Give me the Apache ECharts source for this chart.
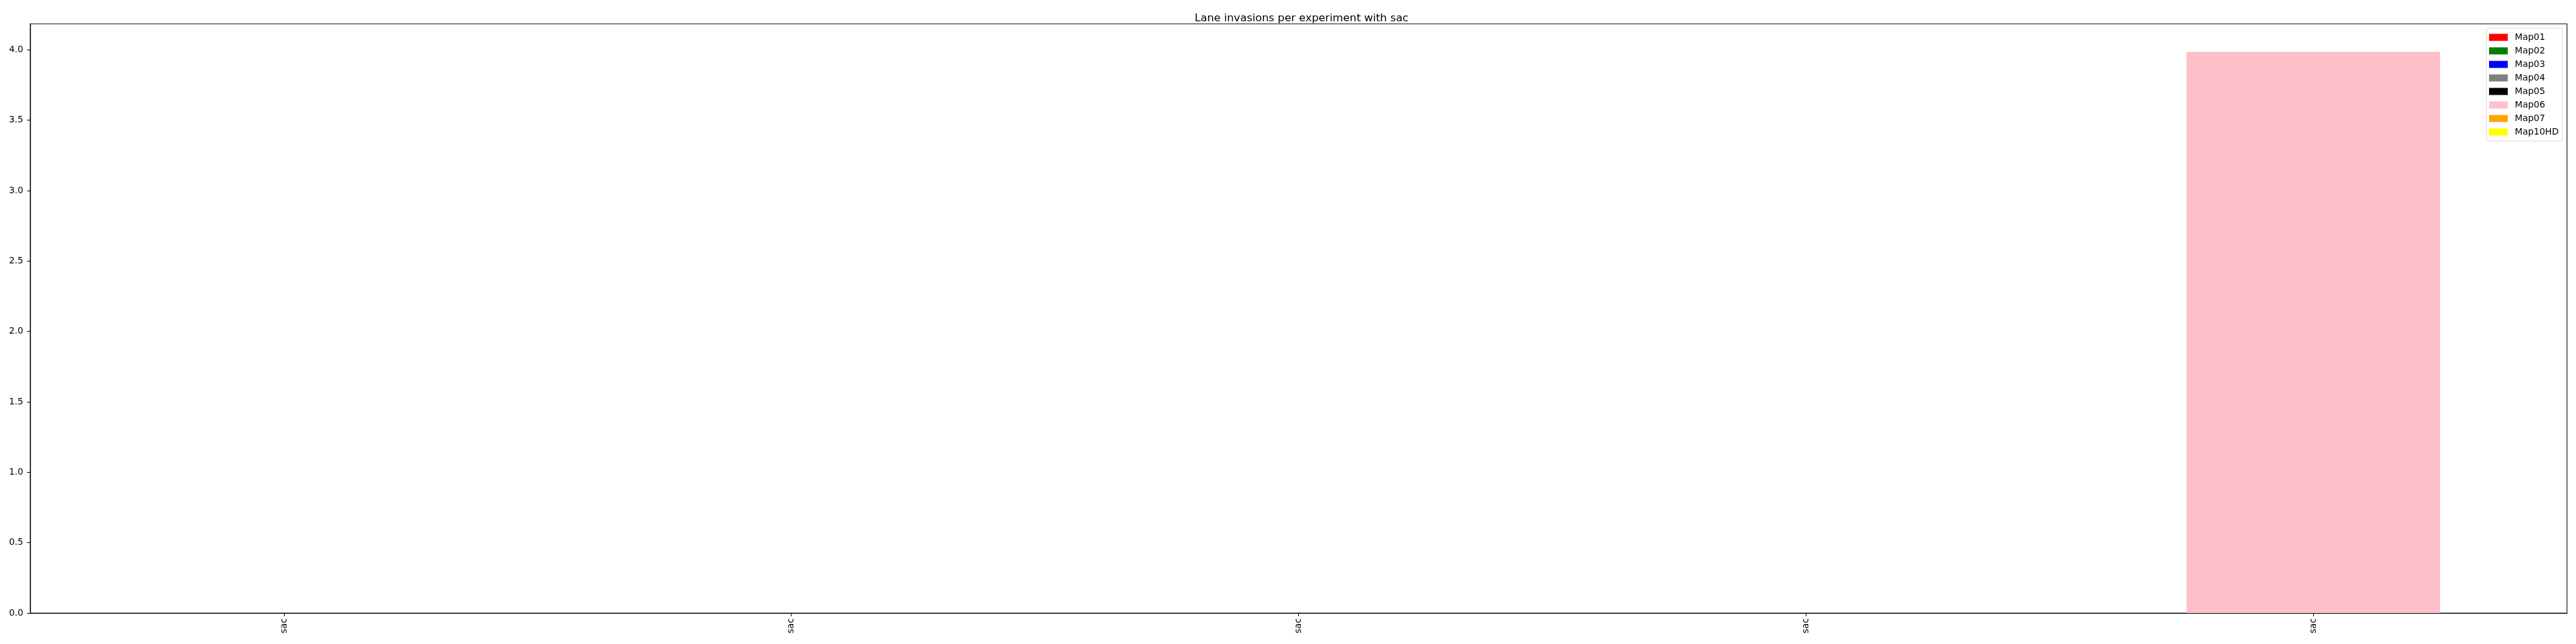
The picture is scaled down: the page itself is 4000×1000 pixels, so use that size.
<!DOCTYPE html>
<html>
<head>
<meta charset="utf-8">
<script src="https://cdn.jsdelivr.net/npm/echarts@6/dist/echarts.min.js"></script>
<style>
html,body{margin:0;padding:0;background:#fff;}
#chart{width:4000px;height:1000px;}
</style>
</head>
<body>
<div id="chart"></div>
<script>
const categories = ['sac', 'sac', 'sac', 'sac', 'sac'];
const seriesNames = ['Map01', 'Map02', 'Map03', 'Map04', 'Map05', 'Map06', 'Map07', 'Map10HD'];
const seriesColors = ['#ff0000', '#008000', '#0000ff', '#808080', '#000000', '#ffc0cb', '#ffa500', '#ffff00'];
const map01 = [0, 0, 0, 0, 0];
const map02 = [0, 0, 0, 0, 0];
const map03 = [0, 0, 0, 0, 0];
const map04 = [0, 0, 0, 0, 0];
const map05 = [0, 0, 0, 0, 0];
const map06 = [0, 0, 0, 0, 3.985];
const map07 = [0, 0, 0, 0, 0];
const map10hd = [0, 0, 0, 0, 0];
const yTicks = [0, 0.5, 1.0, 1.5, 2.0, 2.5, 3.0, 3.5, 4.0];
const yMax = 4.184;
const titleText = 'Lane invasions per experiment with sac';

const seriesValues = [map01, map02, map03, map04, map05, map06, map07, map10hd];
const FONT = 'DejaVu Sans';

const chart = echarts.init(document.getElementById('chart'), null, {renderer: 'canvas'});
chart.setOption({
  animation: false,
  backgroundColor: '#ffffff',
  title: {
    text: titleText,
    left: 2016,
    textAlign: 'center',
    top: 15,
    textStyle: {fontFamily: FONT, fontSize: 16.7, fontWeight: 'normal', color: '#000'}
  },
  legend: {
    orient: 'vertical',
    left: 3861,
    top: 44,
    padding: [7, 6, 7, 4],
    itemWidth: 29,
    itemHeight: 11,
    itemGap: 7,
    icon: 'rect',
    backgroundColor: '#ffffff',
    borderColor: '#d6d6d6',
    borderWidth: 1,
    borderRadius: 3,
    textStyle: {fontFamily: FONT, fontSize: 13.9, color: '#000', padding: [0, 0, 0, 6]},
    data: seriesNames
  },
  grid: {
    left: 47, right: 14, top: 37, bottom: 48,
    show: true, borderColor: '#000', borderWidth: 1.1, backgroundColor: 'transparent',
    containLabel: false
  },
  xAxis: {
    type: 'category',
    data: categories,
    boundaryGap: true,
    axisLine: {show: true, lineStyle: {color: '#000', width: 1.1}},
    axisTick: {show: true, alignWithLabel: true, length: 5, lineStyle: {color: '#000', width: 1.1}},
    axisLabel: {rotate: 90, margin: 8, fontFamily: FONT, fontSize: 13.9, color: '#000', interval: 0},
    splitLine: {show: false}
  },
  yAxis: {
    type: 'value',
    min: 0,
    max: yMax,
    interval: 0.5,
    axisLine: {show: true, lineStyle: {color: '#000', width: 1.1}},
    axisTick: {show: true, length: 5, lineStyle: {color: '#000', width: 1.1}, customValues: yTicks},
    axisLabel: {
      margin: 11, fontFamily: FONT, fontSize: 13.9, color: '#000',
      customValues: yTicks,
      formatter: v => v.toFixed(1)
    },
    splitLine: {show: false}
  },
  series: seriesNames.map((name, i) => ({
    name: name,
    type: 'bar',
    stack: 'total',
    barWidth: '50%',
    itemStyle: {color: seriesColors[i]},
    data: seriesValues[i]
  }))
});
</script>
</body>
</html>
